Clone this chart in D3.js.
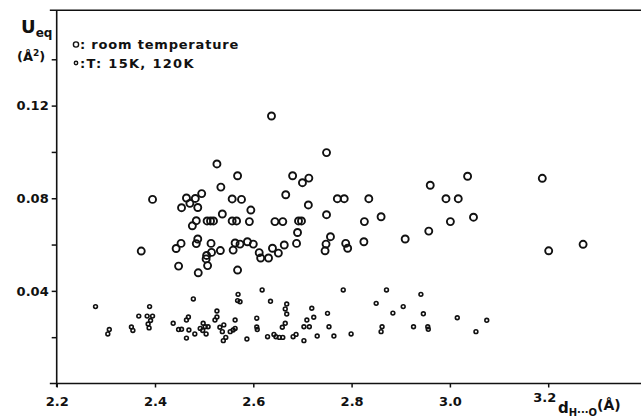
<!DOCTYPE html>
<html>
<head>
<meta charset="utf-8">
<script src="https://cdn.jsdelivr.net/npm/d3@7"></script>
<style>
  html, body { margin: 0; padding: 0; background: #fff; }
  svg { display: block; }
  text { font-family: "DejaVu Sans", "Liberation Sans", sans-serif; font-weight: bold; fill: #111; }
</style>
</head>
<body>
<svg id="chart" width="641" height="418"></svg>
<script>
// Equivalent displacement parameter U_eq against H···O distance
const roomTempD = [2.637, 2.749, 2.526, 2.568, 2.680, 2.534, 2.700, 2.713, 2.666, 2.395,
  2.464, 2.471, 2.482, 2.495, 2.454, 2.487, 2.557, 2.576, 2.595, 2.537,
  2.484, 2.476, 2.506, 2.513, 2.519, 2.557, 2.566, 2.592, 2.644, 2.660,
  2.692, 2.698, 2.771, 2.785, 2.835, 2.712, 2.749, 2.826, 2.860, 2.960,
  2.992, 3.017, 3.036, 3.048, 3.001, 3.188, 2.957, 2.690, 2.757, 2.909,
  2.825, 2.788, 2.792, 2.748, 2.746, 2.688, 2.663, 2.639, 2.651, 2.600,
  2.612, 2.615, 2.631, 2.588, 2.563, 2.573, 2.559, 2.568, 2.533, 2.514,
  2.515, 2.505, 2.504, 2.507, 2.487, 2.484, 2.453, 2.443, 2.448, 2.488,
  2.372, 3.201, 3.271];
const roomTempU = [0.1155, 0.0997, 0.0948, 0.0897, 0.0897, 0.0848, 0.0867, 0.0887, 0.0815, 0.0795,
  0.0801, 0.0778, 0.0799, 0.0820, 0.0759, 0.0760, 0.0797, 0.0795, 0.0749, 0.0732,
  0.0703, 0.0681, 0.0702, 0.0702, 0.0702, 0.0702, 0.0702, 0.0699, 0.0699, 0.0699,
  0.0702, 0.0702, 0.0798, 0.0798, 0.0798, 0.0771, 0.0729, 0.0699, 0.0720, 0.0856,
  0.0798, 0.0798, 0.0895, 0.0718, 0.0699, 0.0886, 0.0658, 0.0652, 0.0634, 0.0624,
  0.0612, 0.0605, 0.0584, 0.0602, 0.0573, 0.0605, 0.0598, 0.0584, 0.0563, 0.0602,
  0.0565, 0.0542, 0.0542, 0.0612, 0.0607, 0.0602, 0.0576, 0.0490, 0.0574, 0.0605,
  0.0566, 0.0553, 0.0538, 0.0509, 0.0624, 0.0604, 0.0605, 0.0583, 0.0507, 0.0478,
  0.0572, 0.0573, 0.0601];

const lowTempD = [2.279, 2.307, 2.304, 2.352, 2.355, 2.367, 2.389, 2.384, 2.395, 2.391,
  2.386, 2.388, 2.437, 2.448, 2.454, 2.464, 2.468, 2.478, 2.469, 2.464,
  2.481, 2.492, 2.498, 2.502, 2.497, 2.504, 2.508, 2.522, 2.526, 2.526,
  2.532, 2.540, 2.537, 2.544, 2.539, 2.553, 2.559, 2.563, 2.563, 2.569,
  2.573, 2.568, 2.587, 2.607, 2.607, 2.608, 2.618, 2.635, 2.668, 2.665,
  2.668, 2.629, 2.642, 2.646, 2.653, 2.660, 2.665, 2.659, 2.681, 2.687,
  2.703, 2.703, 2.709, 2.714, 2.719, 2.723, 2.730, 2.751, 2.754, 2.764,
  2.783, 2.799, 2.850, 2.871, 2.884, 2.862, 2.860, 2.905, 2.926, 2.941,
  2.946, 2.955, 2.956, 3.015, 3.075, 3.053];
const lowTempU = [0.0332, 0.0233, 0.0214, 0.0244, 0.0229, 0.0291, 0.0332, 0.0291, 0.0291, 0.0272,
  0.0257, 0.0240, 0.0260, 0.0233, 0.0234, 0.0274, 0.0287, 0.0365, 0.0231, 0.0196,
  0.0214, 0.0238, 0.0260, 0.0245, 0.0229, 0.0214, 0.0245, 0.0274, 0.0287, 0.0313,
  0.0243, 0.0253, 0.0224, 0.0199, 0.0185, 0.0224, 0.0231, 0.0274, 0.0238, 0.0385,
  0.0353, 0.0358, 0.0192, 0.0282, 0.0244, 0.0233, 0.0404, 0.0355, 0.0343, 0.0322,
  0.0300, 0.0202, 0.0212, 0.0202, 0.0199, 0.0199, 0.0260, 0.0243, 0.0202, 0.0212,
  0.0185, 0.0245, 0.0274, 0.0245, 0.0325, 0.0286, 0.0205, 0.0303, 0.0245, 0.0205,
  0.0404, 0.0214, 0.0346, 0.0404, 0.0304, 0.0245, 0.0224, 0.0332, 0.0245, 0.0385,
  0.0301, 0.0245, 0.0234, 0.0284, 0.0273, 0.0224];

const xTicks = [2.2, 2.4, 2.6, 2.8, 3.0, 3.2];
const yTicks = [0.02, 0.04, 0.06, 0.08, 0.10, 0.12, 0.14];
const yTickLabels = ["", "0.04", "", "0.08", "", "0.12", ""];
const legendLabels = ["room temperature", "T: 15K, 120K"];

const svg = d3.select("#chart");
const W = 641;

const x = d3.scaleLinear().domain([2.2, 3.2]).range([56.7, 548.2]);
const y = d3.scaleLinear().domain([0, 0.12]).range([383.5, 105.6]);

const frameLeft = x(2.186), frameRight = W;
const frameTop = y(0.1612), frameBottom = y(-0.0015);

// frame lines: left and bottom axes plus top border
const frame = svg.append("g").attr("stroke", "#111").attr("stroke-width", 1.6).attr("fill", "none");
frame.append("line").attr("x1", frameLeft).attr("x2", frameRight).attr("y1", y(0)).attr("y2", y(0));
frame.append("line").attr("x1", x(2.2)).attr("x2", x(2.2)).attr("y1", frameTop).attr("y2", frameBottom);
frame.append("line").attr("x1", frameLeft).attr("x2", frameRight).attr("y1", frameTop).attr("y2", frameTop);

// x axis
const xAxis = d3.axisBottom(x).tickValues(xTicks).tickSize(4).tickPadding(9)
  .tickFormat(d3.format(".1f"));
const gx = svg.append("g").attr("transform", `translate(0,${y(0)})`).call(xAxis);
gx.select(".domain").remove();
gx.selectAll(".tick line").attr("stroke", "#111").attr("stroke-width", 1.5);
gx.selectAll(".tick text").attr("font-size", 13).attr("font-family", "DejaVu Sans")
  .attr("font-weight", "bold").attr("fill", "#111");
// the last label sits a little higher and to the left, next to the axis title
gx.selectAll(".tick text").filter(d => d === 3.2).attr("dx", -4).attr("dy", "0.41em");

// y axis
const yAxis = d3.axisLeft(y).tickValues(yTicks).tickSize(5).tickPadding(3)
  .tickFormat((d, i) => yTickLabels[i]);
const gy = svg.append("g").attr("transform", `translate(${x(2.2)},0)`).call(yAxis);
gy.select(".domain").remove();
gy.selectAll(".tick line").attr("stroke", "#111").attr("stroke-width", 1.5);
gy.selectAll(".tick text").attr("font-size", 13).attr("font-family", "DejaVu Sans")
  .attr("font-weight", "bold").attr("fill", "#111");

// y axis title
const yt = svg.append("text").attr("x", 21).attr("y", 33);
yt.append("tspan").attr("font-size", 18).text("U");
yt.append("tspan").attr("font-size", 12).attr("dy", 4).text("eq");
const yu = svg.append("text").attr("x", 17).attr("y", 61).attr("font-size", 13);
yu.append("tspan").text("(Å");
yu.append("tspan").attr("font-size", 9).attr("dy", -5).text("2");
yu.append("tspan").attr("dy", 5).text(")");

// x axis title
const xt = svg.append("text").attr("x", 558).attr("y", 413);
xt.append("tspan").attr("font-size", 15).text("d");
xt.append("tspan").attr("font-size", 10).attr("dy", 3).text("H···O");
xt.append("tspan").attr("font-size", 14).attr("dy", -6).text("(Å)");

// data points
const roomData = roomTempD.map((d, i) => ({ d, u: roomTempU[i] }));
const lowData = lowTempD.map((d, i) => ({ d, u: lowTempU[i] }));

svg.append("g").selectAll("circle").data(roomData).join("circle")
  .attr("cx", p => x(p.d)).attr("cy", p => y(p.u)).attr("r", 3.5)
  .attr("fill", "none").attr("stroke", "#111").attr("stroke-width", 1.9);

svg.append("g").selectAll("circle").data(lowData).join("circle")
  .attr("cx", p => x(p.d)).attr("cy", p => y(p.u)).attr("r", 1.9)
  .attr("fill", "none").attr("stroke", "#111").attr("stroke-width", 1.6);

// legend
const legend = svg.append("g");
legend.append("circle").attr("cx", 76).attr("cy", 44.5).attr("r", 2.6)
  .attr("fill", "none").attr("stroke", "#111").attr("stroke-width", 1.4);
legend.append("circle").attr("cx", 76).attr("cy", 63).attr("r", 1.7)
  .attr("fill", "none").attr("stroke", "#111").attr("stroke-width", 1.4);
legend.append("text").attr("x", 80).attr("y", 49).attr("font-size", 13)
  .attr("letter-spacing", 0.8).text(": " + legendLabels[0]);
legend.append("text").attr("x", 80).attr("y", 68).attr("font-size", 13)
  .attr("letter-spacing", 1.3).text(":" + legendLabels[1]);
</script>
</body>
</html>
